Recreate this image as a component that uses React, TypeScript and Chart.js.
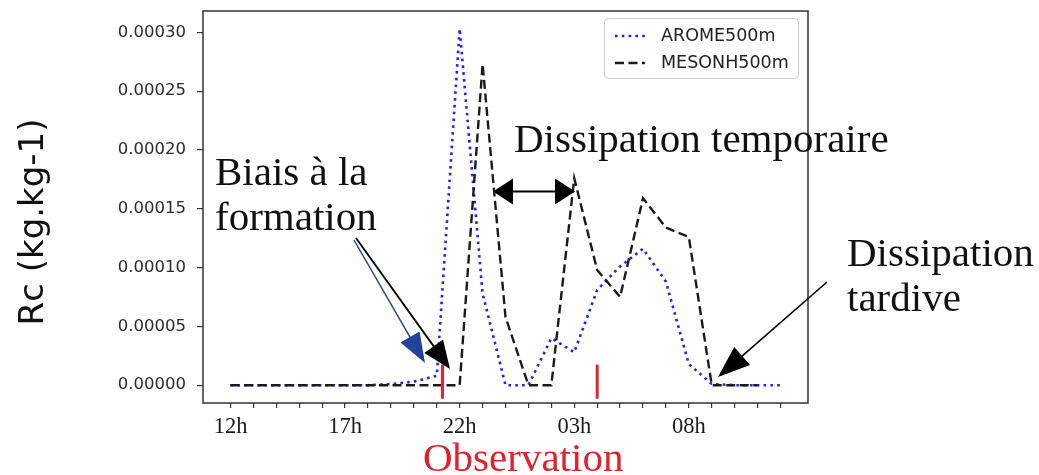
import React, { useEffect, useRef } from 'react';
import { Chart, registerables } from 'chart.js';

Chart.register(...registerables);

// ---- data ----
const hours = [0, 1, 2, 3, 4, 5, 6, 7, 8, 9, 10, 11, 12, 13, 14, 15, 16, 17, 18, 19, 20, 21, 22, 23, 24];
const xLabelHours = [0, 5, 10, 15, 20];
const xTickLabels = ['12h', '17h', '22h', '03h', '08h'];
const seriesNames = ['AROME500m', 'MESONH500m'];
const aromeValues = [0, 0, 0, 0, 0, 0, 0, 0.000001, 0.000003, 0.000008, 0.000303, 0.000078, 0, 0, 0.00004, 0.000028, 0.000081, 0.000101, 0.000116, 0.000088, 0.000018, 0.000001, 0, 0, 0];
const mesonhValues = [0, 0, 0, 0, 0, 0, 0, 0, 0, 0, 0, 0.000273, 0.000058, 0, 0, 0.000176, 0.000098, 0.000075, 0.000159, 0.000134, 0.000126, 0, 0, 0, null];
const yTickValues = [0, 0.00005, 0.0001, 0.00015, 0.0002, 0.00025, 0.0003];
const observationHours = [9.25, 16.0];
const yAxisTitle = 'Rc (kg.kg-1)';
const xAxisTitle = 'Observation';

const SERIF = '"Liberation Serif", "DejaVu Serif", serif';
const SANS = '"DejaVu Sans", sans-serif';

function drawArrow(ctx: CanvasRenderingContext2D, x1: number, y1: number, x2: number, y2: number, color: string, lw: number, hl: number, hw: number) {
  const dx = x2 - x1, dy = y2 - y1;
  const len = Math.hypot(dx, dy);
  const ux = dx / len, uy = dy / len;
  const bx = x2 - ux * hl, by = y2 - uy * hl;
  ctx.save();
  ctx.setLineDash([]);
  ctx.strokeStyle = color;
  ctx.lineWidth = lw;
  ctx.beginPath();
  ctx.moveTo(x1, y1);
  ctx.lineTo(bx + ux * 2, by + uy * 2);
  ctx.stroke();
  ctx.fillStyle = color;
  ctx.beginPath();
  ctx.moveTo(x2, y2);
  ctx.lineTo(bx - uy * hw / 2, by + ux * hw / 2);
  ctx.lineTo(bx + uy * hw / 2, by - ux * hw / 2);
  ctx.closePath();
  ctx.fill();
  ctx.restore();
}

function drawHead(ctx: CanvasRenderingContext2D, tx: number, ty: number, ux: number, uy: number, hl: number, hw: number) {
  const bx = tx - ux * hl, by = ty - uy * hl;
  ctx.beginPath();
  ctx.moveTo(tx, ty);
  ctx.lineTo(bx - uy * hw / 2, by + ux * hw / 2);
  ctx.lineTo(bx + uy * hw / 2, by - ux * hw / 2);
  ctx.closePath();
  ctx.fill();
}

const overlayPlugin = {
  id: 'overlay',
  afterDraw(chart: any) {
    const ctx: CanvasRenderingContext2D = chart.ctx;
    const area = chart.chartArea;
    const xs = chart.scales.x;
    const ys = chart.scales.y;
    ctx.save();

    // frame
    ctx.strokeStyle = '#333';
    ctx.lineWidth = 1.5;
    ctx.setLineDash([]);
    ctx.strokeRect(area.left, area.top, area.right - area.left, area.bottom - area.top);

    // observation markers
    ctx.strokeStyle = '#e8202a';
    ctx.lineWidth = 3;
    observationHours.forEach((h) => {
      const px = xs.getPixelForValue(h);
      ctx.beginPath();
      ctx.moveTo(px, ys.getPixelForValue(0.0000175));
      ctx.lineTo(px, ys.getPixelForValue(-0.0000115));
      ctx.stroke();
    });

    // arrows
    drawArrow(ctx, 354, 240, 425, 363, '#23439b', 1.5, 30, 22);
    drawArrow(ctx, 356, 238, 450, 369, '#000', 1.8, 28, 23);
    drawArrow(ctx, 827, 282, 718, 377, '#000', 1.6, 32, 24);
    // double arrow
    ctx.save();
    ctx.strokeStyle = '#000';
    ctx.fillStyle = '#000';
    ctx.lineWidth = 2;
    ctx.beginPath();
    ctx.moveTo(510, 191.5);
    ctx.lineTo(558, 191.5);
    ctx.stroke();
    drawHead(ctx, 493, 191.5, -1, 0, 20, 26);
    drawHead(ctx, 575, 191.5, 1, 0, 20, 26);
    ctx.restore();

    // annotation texts
    ctx.fillStyle = '#111';
    ctx.font = `41px ${SERIF}`;
    ctx.textAlign = 'left';
    ctx.textBaseline = 'alphabetic';
    ctx.fillText('Biais à la', 215, 185);
    ctx.fillText('formation', 215, 230);
    ctx.fillText('Dissipation temporaire', 514, 152);
    ctx.fillText('Dissipation', 847, 266);
    ctx.fillText('tardive', 847, 311);

    // x title
    ctx.fillStyle = '#e0202a';
    ctx.fillText(xAxisTitle, 423, 471);

    // y title
    ctx.save();
    ctx.translate(34, 222);
    ctx.rotate(-Math.PI / 2);
    ctx.fillStyle = '#111';
    ctx.font = `34px ${SANS}`;
    ctx.textAlign = 'center';
    ctx.textBaseline = 'middle';
    ctx.fillText(yAxisTitle, 0, 0);
    ctx.restore();

    // legend
    ctx.save();
    ctx.fillStyle = 'rgba(255,255,255,0.85)';
    ctx.strokeStyle = '#cccccc';
    ctx.lineWidth = 1;
    ctx.beginPath();
    (ctx as any).roundRect(604.5, 18.5, 194, 60, 4);
    ctx.fill();
    ctx.stroke();
    const styles = [
      { color: '#2020ff', dash: [2.6, 4.2], width: 2.6, y: 36 },
      { color: '#1a1a1a', dash: [9, 4.5], width: 2.4, y: 63 },
    ];
    styles.forEach((s, i) => {
      ctx.strokeStyle = s.color;
      ctx.lineWidth = s.width;
      ctx.setLineDash(s.dash);
      ctx.beginPath();
      ctx.moveTo(615, s.y);
      ctx.lineTo(645, s.y);
      ctx.stroke();
      ctx.setLineDash([]);
      ctx.fillStyle = '#222';
      ctx.font = `17.5px ${SANS}`;
      ctx.textAlign = 'left';
      ctx.textBaseline = 'middle';
      ctx.fillText(seriesNames[i], 661, s.y);
    });
    ctx.restore();

    ctx.restore();
  },
};

export default function App() {
  const canvasRef = useRef<HTMLCanvasElement | null>(null);

  useEffect(() => {
    if (!canvasRef.current) return;
    const chart = new Chart(canvasRef.current, {
      type: 'line',
      data: {
        datasets: [
          {
            label: seriesNames[0],
            data: hours.map((h, i) => ({ x: h, y: aromeValues[i] })),
            borderColor: '#2020ff',
            borderWidth: 2.6,
            borderDash: [2.6, 4.2],
            borderCapStyle: 'butt',
            pointRadius: 0,
            fill: false,
            tension: 0,
            order: 1,
          },
          {
            label: seriesNames[1],
            data: hours.map((h, i) => ({ x: h, y: mesonhValues[i] })),
            borderColor: '#1a1a1a',
            borderWidth: 2.4,
            borderDash: [9, 4.5],
            borderCapStyle: 'butt',
            pointRadius: 0,
            fill: false,
            tension: 0,
            spanGaps: false,
            order: 0,
          },
        ],
      },
      options: {
        animation: false,
        responsive: false,
        events: [],
        layout: { padding: { left: 0, top: 11, right: 231, bottom: 0 } },
        plugins: {
          legend: { display: false },
          tooltip: { enabled: false },
        },
        scales: {
          x: {
            type: 'linear',
            min: -1.2,
            max: 25.2,
            afterBuildTicks: (scale: any) => {
              scale.ticks = hours.map((h) => ({ value: h }));
            },
            afterFit: (scale: any) => {
              scale.height = 72;
              scale.paddingLeft = 0;
              scale.paddingRight = 0;
              scale.paddingTop = 0;
              scale.paddingBottom = 0;
            },
            ticks: {
              autoSkip: false,
              maxRotation: 0,
              padding: 6,
              color: '#1a1a1a',
              font: { family: SERIF, size: 22.5 },
              callback: (v: any) => {
                const i = xLabelHours.indexOf(Number(v));
                return i >= 0 ? xTickLabels[i] : '';
              },
            },
            grid: { drawOnChartArea: false, drawTicks: true, tickLength: 5, color: '#333', lineWidth: 1.2 },
            border: { display: false },
          },
          y: {
            type: 'linear',
            min: -0.00001515,
            max: 0.00031815,
            afterBuildTicks: (scale: any) => {
              scale.ticks = yTickValues.map((v) => ({ value: v }));
            },
            afterFit: (scale: any) => {
              scale.width = 203;
              scale.paddingLeft = 0;
              scale.paddingRight = 0;
              scale.paddingTop = 0;
              scale.paddingBottom = 0;
            },
            ticks: {
              padding: 11,
              color: '#2a2a2a',
              font: { family: SANS, size: 16.5 },
              callback: (v: any) => Number(v).toFixed(5),
            },
            grid: { drawOnChartArea: false, drawTicks: true, tickLength: 6, color: '#333', lineWidth: 1.2 },
            border: { display: false },
          },
        },
      },
      plugins: [overlayPlugin],
    } as any);
    return () => chart.destroy();
  }, []);

  return (
    <div style={{ position: 'absolute', left: 0, top: 0, width: 1039, height: 475, background: '#fff' }}>
      <canvas ref={canvasRef} width={1039} height={475} style={{ display: 'block' }} />
    </div>
  );
}
